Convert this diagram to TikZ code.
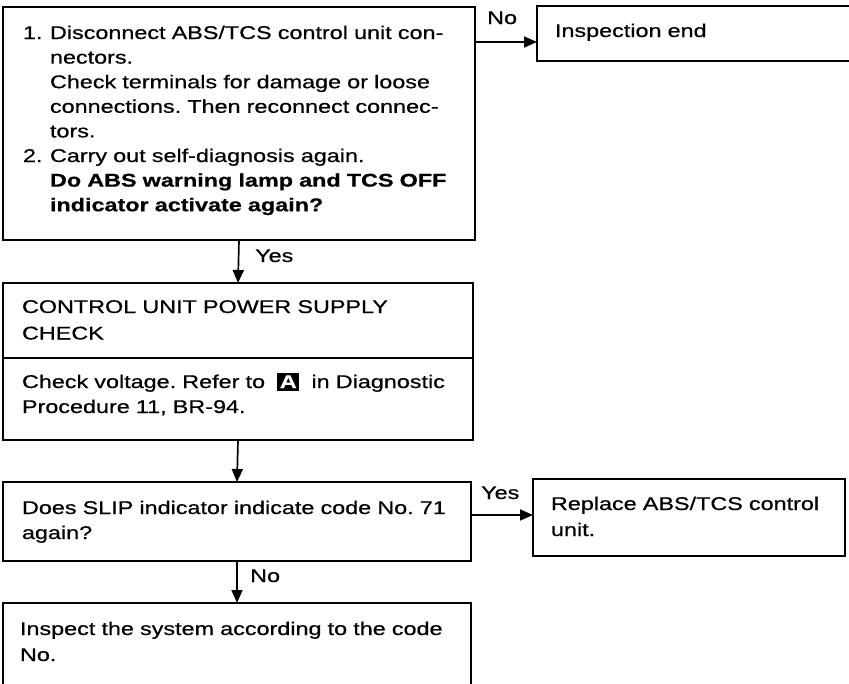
\documentclass[tikz,border=0pt]{standalone}
\usepackage{fontspec}
\setmainfont{Liberation Sans}[FakeStretch=1.27, FakeBold=0.6]
\usetikzlibrary{arrows.meta}
\begin{document}
\frenchspacing
\begin{tikzpicture}[x=1pt,y=-1pt,
  box/.style={draw, line width=1.7pt, inner sep=0pt, outer sep=0pt, anchor=north west},
  txt/.style={anchor=base west, inner sep=0pt, outer sep=0pt, align=left, text width=440pt,
    font=\fontsize{18.4}{24.6}\selectfont},
  lbl/.style={anchor=base west, inner sep=0pt, font=\fontsize{18.4}{22}\selectfont},
  arr/.style={line width=1.7pt, -{Triangle[length=13pt,width=11pt]}}]
\clip (0,0) rectangle (849,683);
\fill[white] (0,0) rectangle (849,683);
% boxes
\node[box, minimum width=472pt, minimum height=233pt] (b1) at (3,7) {};
\node[box, minimum width=323pt, minimum height=55pt] (ie) at (537,6) {};
\node[box, minimum width=470pt, minimum height=75pt] (cuA) at (3,283) {};
\node[box, minimum width=470pt, minimum height=82pt] (cuB) at (3,358) {};
\node[box, minimum width=468pt, minimum height=79pt] (slip) at (3,482) {};
\node[box, minimum width=312pt, minimum height=77pt] (rep) at (533,479) {};
\node[box, minimum width=468pt, minimum height=110pt] (insp) at (3,603) {};
% texts
\node[txt, text width=30pt] (n1) at (23,39) {1.};
\node[txt] (t1) at (50,39) {Disconnect ABS/TCS control unit con-\\nectors.\\Check terminals for damage or loose\\connections. Then reconnect connec-\\tors.};
\node[txt, text width=30pt] (n2) at (23,162) {2.};
\node[txt] (t2) at (50,162) {Carry out self-diagnosis again.\\\textbf{Do ABS warning lamp and TCS OFF}\\\textbf{indicator activate again?}};
\node[txt, text width=280pt] (tie) at (555,37) {Inspection end};
\node[txt, font=\fontsize{18.4}{26.5}\selectfont] (tcuA) at (22,313) {CONTROL UNIT POWER SUPPLY\\CHECK};
\node[txt, font=\fontsize{18.4}{25}\selectfont] (tcuB) at (22,388) {Check voltage. Refer to \ {\setlength{\fboxsep}{2.5pt}\colorbox{black}{\color{white}\textbf{A}}}\ \ in Diagnostic\\Procedure 11, BR-94.};
\node[txt, font=\fontsize{18.4}{25}\selectfont] (tslip) at (22,514) {Does SLIP indicator indicate code No. 71\\again?};
\node[txt, text width=290pt, font=\fontsize{18.4}{26}\selectfont] (trep) at (551,510) {Replace ABS/TCS control\\unit.};
\node[txt, font=\fontsize{18.4}{26}\selectfont] (tinsp) at (20,635) {Inspect the system according to the code\\No.};
% connectors
\coordinate (c1) at (475,42);
\draw[arr] (c1) -- (c1 -| ie.west);
\draw[arr] (b1.south) -- (cuA.north);
\draw[arr] (cuB.south) -- (slip.north);
\coordinate (c2) at (471,515);
\draw[arr] (c2) -- (c2 -| rep.west);
\draw[arr] (slip.south) -- (insp.north);
% labels
\node[lbl] (lNo1) at (487,24) {No};
\node[lbl] (lYes1) at (255,262) {Yes};
\node[lbl] (lYes2) at (481,499) {Yes};
\node[lbl] (lNo2) at (250,582) {No};
\end{tikzpicture}
\end{document}
